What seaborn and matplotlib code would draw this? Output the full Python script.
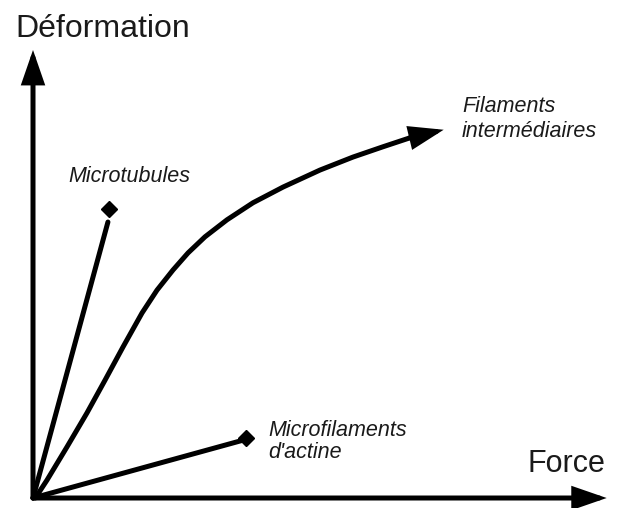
import matplotlib
matplotlib.use("Agg")
import matplotlib.pyplot as plt
import seaborn as sns
import pandas as pd

# Schematic values (force, deformation), arbitrary units 0..10
force_if = [0.04, 0.245, 0.594, 0.944, 1.259, 1.573, 1.906, 2.168, 2.448, 2.710,
            3.007, 3.392, 3.846, 4.371, 5.017, 5.594, 6.119, 6.591]
deform_if = [0.0, 0.40, 1.14, 1.90, 2.63, 3.37, 4.13, 4.64, 5.09, 5.47,
             5.83, 6.21, 6.59, 6.94, 7.32, 7.61, 7.84, 8.04]
tip_if = (7.18, 8.22)

force_mt = [0.0, 1.31]
deform_mt = [0.0, 6.16]
end_mt = (1.32, 6.46)

force_mf = [0.0, 3.67]
deform_mf = [0.0, 1.29]
end_mf = (3.72, 1.34)

axis_max = (10.03, 10.0)

sns.set_style("white")
plt.rcParams['font.family'] = ['Liberation Sans', 'DejaVu Sans']

fig = plt.figure(figsize=(6.25, 5.08), dpi=100)
ax = fig.add_axes([0, 0, 1, 1])
ax.set_xlim(-0.577, 10.35)
ax.set_ylim(-0.223, 11.116)
ax.axis("off")

lw = 3.6
curve = pd.DataFrame({"Force": force_if, "Deformation": deform_if})
sns.lineplot(data=curve, x="Force", y="Deformation", sort=False, color="black",
             linewidth=lw, ax=ax, solid_joinstyle="round")
sns.lineplot(x=force_mt, y=deform_mt, color="black", linewidth=lw, ax=ax)
sns.lineplot(x=force_mf, y=deform_mf, color="black", linewidth=lw, ax=ax)

ax.plot(*end_mt, marker="D", color="black", markersize=8)
ax.plot(*end_mf, marker="D", color="black", markersize=8)

arrow = dict(arrowstyle="-|>,head_length=1.3,head_width=0.45", color="black",
             lw=lw, mutation_scale=14, shrinkA=0, shrinkB=0, joinstyle="miter")
ax.annotate("", xy=tip_if, xytext=(force_if[-1], deform_if[-1]), arrowprops=arrow)
ax.annotate("", xy=(0, axis_max[1]), xytext=(0, 0), arrowprops=arrow)
ax.annotate("", xy=(axis_max[0], 0), xytext=(0, 0), arrowprops=arrow)

tc = "#1a1a1a"
ax.text(-0.31, 10.47, "Déformation", fontsize=23, color=tc, va="center", ha="left")
ax.text(10.0, 0.76, "Force", fontsize=22, color=tc, va="center", ha="right")
ax.text(0.61, 7.17, "Microtubules", fontsize=15.5, style="italic", color=tc, va="center")
ax.text(7.5, 8.45, "Filaments\nintermédiaires", fontsize=15.5, style="italic", color=tc,
        va="center", linespacing=1.25)
ax.text(4.11, 1.26, "Microfilaments\nd'actine", fontsize=15.5, style="italic", color=tc,
        va="center", linespacing=1.1)

fig.savefig("out.png", dpi=100)
